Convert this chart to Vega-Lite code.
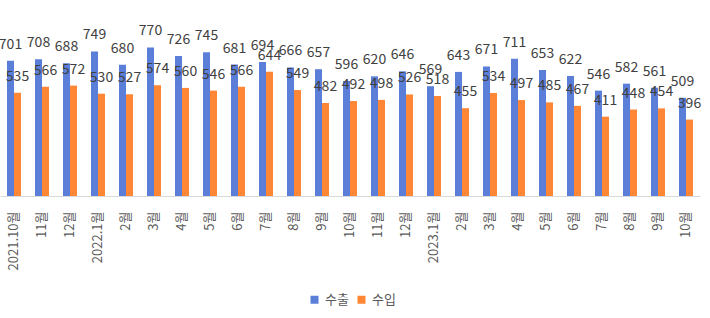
{
  "$schema": "https://vega.github.io/schema/vega-lite/v6.json",
  "autosize": "none",
  "width": 700,
  "height": 193,
  "padding": {"left": 0, "top": 3, "right": 10, "bottom": 122},
  "background": "white",
  "config": {
    "font": "Noto Sans CJK KR",
    "view": {"stroke": null}
  },
  "data": {
    "values": [
      {"month": "2021.10월", "series": "수출", "value": 701}, {"month": "2021.10월", "series": "수입", "value": 535},
      {"month": "11월 ", "series": "수출", "value": 708}, {"month": "11월 ", "series": "수입", "value": 566},
      {"month": "12월 ", "series": "수출", "value": 688}, {"month": "12월 ", "series": "수입", "value": 572},
      {"month": "2022.1월", "series": "수출", "value": 749}, {"month": "2022.1월", "series": "수입", "value": 530},
      {"month": "2월 ", "series": "수출", "value": 680}, {"month": "2월 ", "series": "수입", "value": 527},
      {"month": "3월 ", "series": "수출", "value": 770}, {"month": "3월 ", "series": "수입", "value": 574},
      {"month": "4월 ", "series": "수출", "value": 726}, {"month": "4월 ", "series": "수입", "value": 560},
      {"month": "5월 ", "series": "수출", "value": 745}, {"month": "5월 ", "series": "수입", "value": 546},
      {"month": "6월 ", "series": "수출", "value": 681}, {"month": "6월 ", "series": "수입", "value": 566},
      {"month": "7월 ", "series": "수출", "value": 694}, {"month": "7월 ", "series": "수입", "value": 644},
      {"month": "8월 ", "series": "수출", "value": 666}, {"month": "8월 ", "series": "수입", "value": 549},
      {"month": "9월 ", "series": "수출", "value": 657}, {"month": "9월 ", "series": "수입", "value": 482},
      {"month": "10월 ", "series": "수출", "value": 596}, {"month": "10월 ", "series": "수입", "value": 492},
      {"month": "11월", "series": "수출", "value": 620}, {"month": "11월", "series": "수입", "value": 498},
      {"month": "12월", "series": "수출", "value": 646}, {"month": "12월", "series": "수입", "value": 526},
      {"month": "2023.1월", "series": "수출", "value": 569}, {"month": "2023.1월", "series": "수입", "value": 518},
      {"month": "2월", "series": "수출", "value": 643}, {"month": "2월", "series": "수입", "value": 455},
      {"month": "3월", "series": "수출", "value": 671}, {"month": "3월", "series": "수입", "value": 534},
      {"month": "4월", "series": "수출", "value": 711}, {"month": "4월", "series": "수입", "value": 497},
      {"month": "5월", "series": "수출", "value": 653}, {"month": "5월", "series": "수입", "value": 485},
      {"month": "6월", "series": "수출", "value": 622}, {"month": "6월", "series": "수입", "value": 467},
      {"month": "7월", "series": "수출", "value": 546}, {"month": "7월", "series": "수입", "value": 411},
      {"month": "8월", "series": "수출", "value": 582}, {"month": "8월", "series": "수입", "value": 448},
      {"month": "9월", "series": "수출", "value": 561}, {"month": "9월", "series": "수입", "value": 454},
      {"month": "10월", "series": "수출", "value": 509}, {"month": "10월", "series": "수입", "value": 396}
    ]
  },
  "encoding": {
    "x": {
      "field": "month", "type": "nominal", "sort": null, "title": null,
      "scale": {"paddingInner": 0.5, "paddingOuter": 0.25},
      "axis": {
        "labelAngle": -90, "labelFontSize": 13, "labelColor": "#595959", "labelPadding": 15,
        "ticks": false, "domainColor": "#d9d9d9", "domainWidth": 1, "grid": false
      }
    },
    "xOffset": {"field": "series", "type": "nominal", "sort": ["수출", "수입"]},
    "y": {
      "field": "value", "type": "quantitative", "scale": {"domain": [0, 1000]}, "axis": null
    }
  },
  "layer": [
    {
      "mark": {"type": "bar"},
      "encoding": {
        "color": {
          "field": "series", "type": "nominal", "sort": ["수출", "수입"],
          "scale": {"domain": ["수출", "수입"], "range": ["#5b7fd9", "#ff8635"]},
          "legend": {
            "title": null, "orient": "none", "direction": "horizontal",
            "legendX": 308, "legendY": 290, "symbolType": "square", "symbolSize": 64,
            "labelFontSize": 13, "labelColor": "#595959", "columnPadding": 6, "symbolOffset": 0
          }
        }
      }
    },
    {
      "mark": {"type": "text", "baseline": "bottom", "dy": -9, "fontSize": 14, "color": "#404040"},
      "encoding": {"text": {"field": "value", "type": "quantitative"}}
    }
  ]
}
